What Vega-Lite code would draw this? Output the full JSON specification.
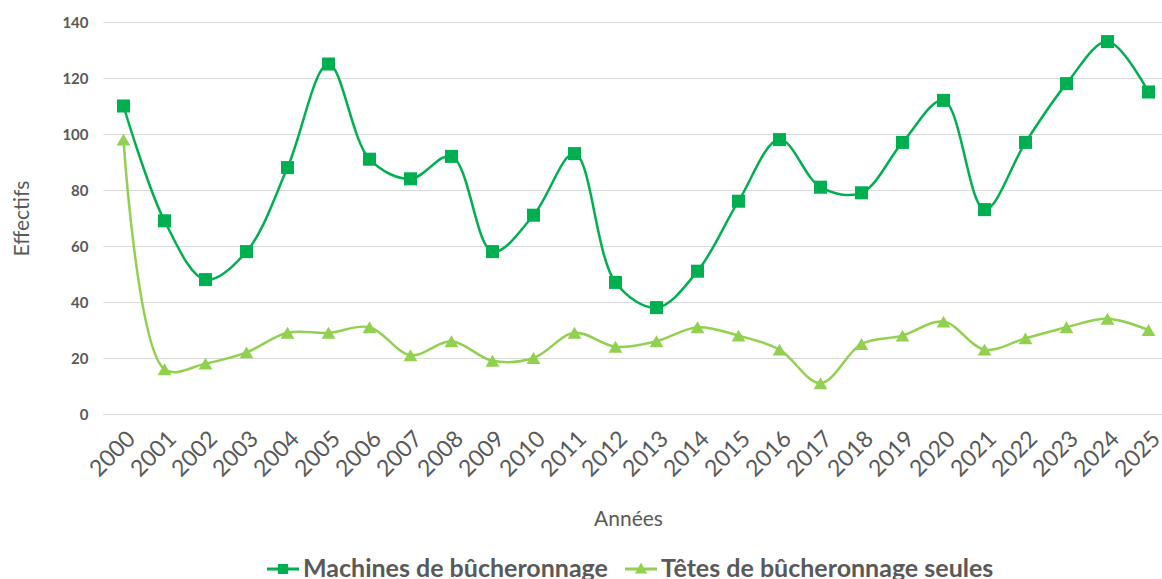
{
  "$schema": "https://vega.github.io/schema/vega-lite/v6.json",
  "width": 1066,
  "height": 392,
  "autosize": {"type": "none"},
  "padding": {"left": 103, "top": 22, "right": 0, "bottom": 165},
  "background": "white",
  "config": {
    "font": "Lato",
    "view": {"stroke": null},
    "legend": {"symbolOpacity": 1, "symbolStrokeWidth": 0}
  },
  "data": {
    "values": [
      {"year": "2000", "serie": "Machines de bûcheronnage", "value": 110},
      {"year": "2001", "serie": "Machines de bûcheronnage", "value": 69},
      {"year": "2002", "serie": "Machines de bûcheronnage", "value": 48},
      {"year": "2003", "serie": "Machines de bûcheronnage", "value": 58},
      {"year": "2004", "serie": "Machines de bûcheronnage", "value": 88},
      {"year": "2005", "serie": "Machines de bûcheronnage", "value": 125},
      {"year": "2006", "serie": "Machines de bûcheronnage", "value": 91},
      {"year": "2007", "serie": "Machines de bûcheronnage", "value": 84},
      {"year": "2008", "serie": "Machines de bûcheronnage", "value": 92},
      {"year": "2009", "serie": "Machines de bûcheronnage", "value": 58},
      {"year": "2010", "serie": "Machines de bûcheronnage", "value": 71},
      {"year": "2011", "serie": "Machines de bûcheronnage", "value": 93},
      {"year": "2012", "serie": "Machines de bûcheronnage", "value": 47},
      {"year": "2013", "serie": "Machines de bûcheronnage", "value": 38},
      {"year": "2014", "serie": "Machines de bûcheronnage", "value": 51},
      {"year": "2015", "serie": "Machines de bûcheronnage", "value": 76},
      {"year": "2016", "serie": "Machines de bûcheronnage", "value": 98},
      {"year": "2017", "serie": "Machines de bûcheronnage", "value": 81},
      {"year": "2018", "serie": "Machines de bûcheronnage", "value": 79},
      {"year": "2019", "serie": "Machines de bûcheronnage", "value": 97},
      {"year": "2020", "serie": "Machines de bûcheronnage", "value": 112},
      {"year": "2021", "serie": "Machines de bûcheronnage", "value": 73},
      {"year": "2022", "serie": "Machines de bûcheronnage", "value": 97},
      {"year": "2023", "serie": "Machines de bûcheronnage", "value": 118},
      {"year": "2024", "serie": "Machines de bûcheronnage", "value": 133},
      {"year": "2025", "serie": "Machines de bûcheronnage", "value": 115},
      {"year": "2000", "serie": "Têtes de bûcheronnage seules", "value": 98},
      {"year": "2001", "serie": "Têtes de bûcheronnage seules", "value": 16},
      {"year": "2002", "serie": "Têtes de bûcheronnage seules", "value": 18},
      {"year": "2003", "serie": "Têtes de bûcheronnage seules", "value": 22},
      {"year": "2004", "serie": "Têtes de bûcheronnage seules", "value": 29},
      {"year": "2005", "serie": "Têtes de bûcheronnage seules", "value": 29},
      {"year": "2006", "serie": "Têtes de bûcheronnage seules", "value": 31},
      {"year": "2007", "serie": "Têtes de bûcheronnage seules", "value": 21},
      {"year": "2008", "serie": "Têtes de bûcheronnage seules", "value": 26},
      {"year": "2009", "serie": "Têtes de bûcheronnage seules", "value": 19},
      {"year": "2010", "serie": "Têtes de bûcheronnage seules", "value": 20},
      {"year": "2011", "serie": "Têtes de bûcheronnage seules", "value": 29},
      {"year": "2012", "serie": "Têtes de bûcheronnage seules", "value": 24},
      {"year": "2013", "serie": "Têtes de bûcheronnage seules", "value": 26},
      {"year": "2014", "serie": "Têtes de bûcheronnage seules", "value": 31},
      {"year": "2015", "serie": "Têtes de bûcheronnage seules", "value": 28},
      {"year": "2016", "serie": "Têtes de bûcheronnage seules", "value": 23},
      {"year": "2017", "serie": "Têtes de bûcheronnage seules", "value": 11},
      {"year": "2018", "serie": "Têtes de bûcheronnage seules", "value": 25},
      {"year": "2019", "serie": "Têtes de bûcheronnage seules", "value": 28},
      {"year": "2020", "serie": "Têtes de bûcheronnage seules", "value": 33},
      {"year": "2021", "serie": "Têtes de bûcheronnage seules", "value": 23},
      {"year": "2022", "serie": "Têtes de bûcheronnage seules", "value": 27},
      {"year": "2023", "serie": "Têtes de bûcheronnage seules", "value": 31},
      {"year": "2024", "serie": "Têtes de bûcheronnage seules", "value": 34},
      {"year": "2025", "serie": "Têtes de bûcheronnage seules", "value": 30}
    ]
  },
  "encoding": {
    "x": {
      "field": "year",
      "type": "ordinal",
      "scale": {"type": "point", "padding": 0.5},
      "axis": {
        "title": "Années",
        "titleFontSize": 21,
        "titleFontWeight": "normal",
        "titleColor": "#595959",
        "titleX": 525,
        "titleY": 105,
        "titleBaseline": "middle",
        "labelAngle": -45,
        "labelFontSize": 23,
        "labelColor": "#595959",
        "labelPadding": 13,
        "ticks": false,
        "domain": true,
        "domainColor": "#d9d9d9",
        "grid": false
      }
    },
    "y": {
      "field": "value",
      "type": "quantitative",
      "scale": {"domain": [0, 140]},
      "axis": {
        "title": "Effectifs",
        "titleFontSize": 21,
        "titleFontWeight": "normal",
        "titleColor": "#595959",
        "titleX": -81,
        "titleY": 196,
        "titleAngle": -90,
        "titleBaseline": "middle",
        "titleAlign": "center",
        "values": [0, 20, 40, 60, 80, 100, 120, 140],
        "labelFontSize": 15,
        "labelFontWeight": "bold",
        "labelColor": "#595959",
        "labelPadding": 15,
        "ticks": false,
        "domain": false,
        "grid": true,
        "gridColor": "#d9d9d9",
        "gridWidth": 1
      }
    },
    "color": {
      "field": "serie",
      "type": "nominal",
      "scale": {
        "domain": ["Machines de bûcheronnage", "Têtes de bûcheronnage seules"],
        "range": ["#00B050", "#92D050"]
      },
      "legend": {
        "title": null,
        "orient": "none",
        "direction": "horizontal",
        "legendX": 164,
        "legendY": 531,
        "labelFontSize": 25,
        "labelFontWeight": "bold",
        "labelColor": "#595959",
        "labelOffset": 4,
        "columnPadding": 17,
        "symbolSize": 1024,
        "labelLimit": 500
      }
    }
  },
  "layer": [
    {
      "mark": {"type": "point", "filled": true, "opacity": 0},
      "encoding": {
        "shape": {
          "field": "serie",
          "type": "nominal",
          "scale": {
            "domain": ["Machines de bûcheronnage", "Têtes de bûcheronnage seules"],
            "range": [
              "M-1,-0.09H1V0.09H-1Z M-0.32,-0.32H0.32V0.32H-0.32Z",
              "M-1,-0.09H1V0.09H-1Z M0,-0.4L0.38,0.28H-0.38Z"
            ]
          }
        }
      }
    },
    {
      "mark": {"type": "line", "interpolate": "catmull-rom", "strokeWidth": 2.5},
      "encoding": {}
    },
    {
      "transform": [{"filter": "datum.serie == 'Machines de bûcheronnage'"}],
      "mark": {"type": "point", "shape": "square", "filled": true, "size": 170, "opacity": 1}
    },
    {
      "transform": [{"filter": "datum.serie == 'Têtes de bûcheronnage seules'"}],
      "mark": {"type": "point", "shape": "triangle-up", "filled": true, "size": 190, "opacity": 1}
    }
  ]
}
